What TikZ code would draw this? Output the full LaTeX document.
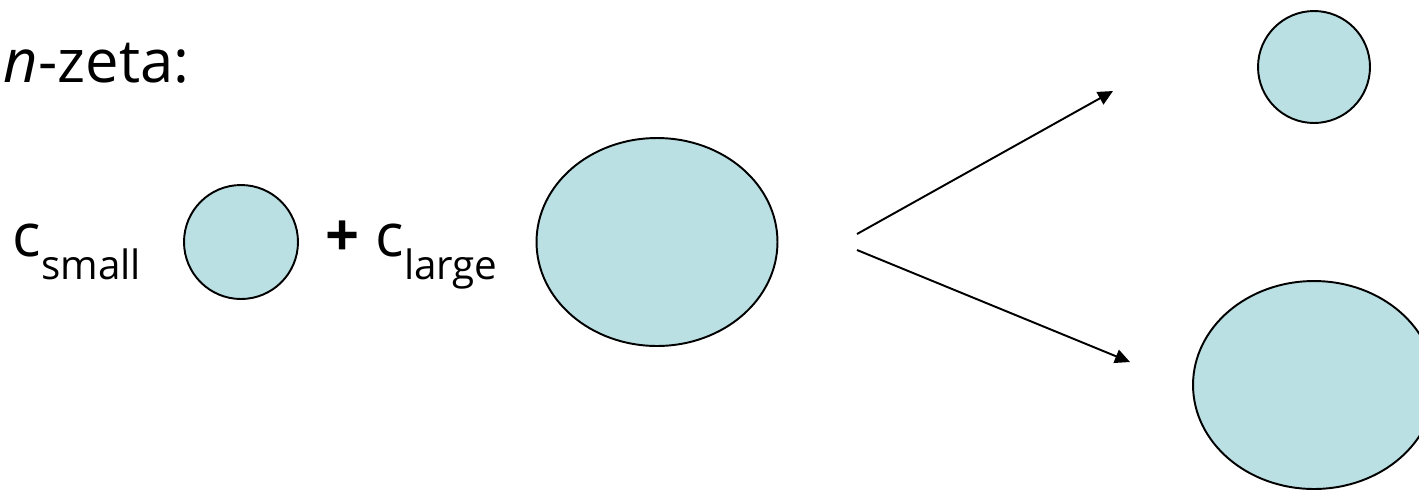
\documentclass[tikz,border=0pt]{standalone}
\usepackage{fontspec}
\setmainfont{Open Sans}
\usetikzlibrary{arrows.meta, shapes.geometric}

\definecolor{dropblue}{RGB}{186,224,227}
% coefficient with a lowered subscript word
\newcommand{\coef}[1]{c\raisebox{-0.40em}{\fontsize{23}{23}\selectfont #1}}

\begin{document}
\begin{tikzpicture}[x=0.02cm, y=-0.02cm, line width=1.1pt,
        blob/.style={ellipse, draw, fill=dropblue, inner sep=0pt},
        word/.style={font=\fontsize{34}{34}\selectfont, inner sep=0pt}]
                \clip (0,0) rectangle (1419,491);
                % Title:
                \node[word, anchor=base west] (title) at (3,82) {\textit{n}-zeta:};

                % Left side, small plus large:
                \node[word, anchor=base west] (csmall) at (12,256) {\coef{small}};
                \node[blob, minimum width=2.28cm, minimum height=2.28cm] (small) at (241,242) {};
                \node[word, anchor=base west] (clarge) at (325,256) {\textbf{+} \coef{large}};
                \node[blob, minimum width=4.82cm, minimum height=4.16cm] (large) at (657,242) {};

                % Right side, the two results:
                \node[blob, minimum width=2.24cm, minimum height=2.24cm] (upper) at (1314,67) {};
                \node[blob, minimum width=4.84cm, minimum height=4.16cm] (lower) at (1314,385) {};

                % Arrows:
                \coordinate (fork up) at (857,234);
                \coordinate (fork down) at (857,250);
                \coordinate (to upper) at (1113,91);
                \coordinate (to lower) at (1130,362);
                \draw[-{Triangle[length=0.3cm, width=0.28cm]}] (fork up) -- (to upper);
                \draw[-{Triangle[length=0.3cm, width=0.28cm]}] (fork down) -- (to lower);
            \end{tikzpicture}
\end{document}
